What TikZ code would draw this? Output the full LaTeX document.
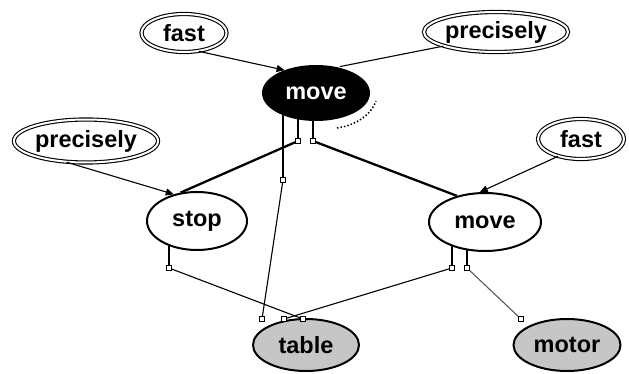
\documentclass[tikz,border=0pt]{standalone}
\usepackage{fontspec}
\setmainfont{Liberation Sans}
\usetikzlibrary{shapes.geometric,arrows.meta,backgrounds}
\begin{document}
\begin{tikzpicture}[x=1pt,y=-1pt,
  every node/.style={font=\fontsize{23.5}{25}\selectfont\bfseries},
  concept/.style={ellipse, draw, line width=2pt, fill=white, inner sep=0pt},
  modifier/.style={ellipse, draw, double, double distance=2pt, line width=1.1pt, inner sep=0pt},
  head/.style={concept, fill=black, text=white},
  object/.style={concept, fill=gray!45},
  port/.style={rectangle, draw, line width=0.9pt, fill=white, minimum size=5pt, inner sep=0pt},
  link/.style={line width=1.1pt},
  strong/.style={line width=2.3pt},
  tip/.style={-{Triangle[length=8pt,width=7pt]}}
]
\useasboundingbox (0,0) rectangle (629,374);

% concepts
\node[modifier, minimum width=85pt, minimum height=38pt] (fastA) at (184,33) {fast};
\node[modifier, minimum width=140pt, minimum height=40pt] (precA) at (496,32) {precisely};
\node[head, minimum width=106pt, minimum height=54pt] (moveA) at (316,93) {move};
\node[modifier, minimum width=143pt, minimum height=43pt] (precB) at (86,141) {precisely};
\node[modifier, minimum width=86pt, minimum height=40pt] (fastB) at (581,139) {fast};
\node[concept, minimum width=100pt, minimum height=58pt] (stop) at (197,221) {stop};
\node[concept, minimum width=112pt, minimum height=58pt] (moveB) at (485,222) {move};
\node[object, minimum width=106pt, minimum height=52pt] (table) at (306,345) {table};
\node[object, minimum width=107pt, minimum height=52pt] (motor) at (567,345) {motor};

% ports
\node[port] (pA1) at (283,180) {};
\node[port] (pA2) at (298,141) {};
\node[port] (pA3) at (313,141) {};
\node[port] (pS)  at (169,268) {};
\node[port] (pM1) at (452,268) {};
\node[port] (pM2) at (467,268) {};
\node[port] (tP1) at (262,319) {};
\node[port] (tP2) at (284,319) {};
\node[port] (tP3) at (303,319) {};
\node[port] (mP)  at (521,319) {};

% stems hidden behind the filled concepts
\begin{scope}[on background layer]
  \draw[link] (pA1.north) -- (pA1 |- moveA.center);
  \draw[line width=1.5pt] (pA2.north) -- (pA2 |- moveA.center);
  \draw[line width=1.5pt] (pA3.north) -- (pA3 |- moveA.center);
  \draw[link] (pS.north) -- (pS |- stop.center);
  \draw[link] (pM1.north) -- (pM1 |- moveB.center);
  \draw[link] (pM2.north) -- (pM2 |- moveB.center);
\end{scope}

% role links
\draw[link] (pA1) -- (tP1);
\draw[strong] (pA2) -- (stop.120);
\draw[strong] (pA3) -- (moveB.137);
\draw[link] (pS) -- (tP3);
\draw[link] (pM1) -- (tP2);
\draw[link, gray!70!black] (pM2) -- (mP);

% modifiers
\draw[link, tip] (fastA.-51) -- (moveA.144);
\draw[link, shorten >=3pt] (precA.195) -- (moveA.51);
\draw[link, tip] (precB.228) -- (stop.131);
\draw[link, tip] (fastB.217) -- (moveB.100);

% selection trace
\draw[dotted, line width=1.5pt] (337,128) .. controls (358,125) and (372,113) .. (376,101);
\end{tikzpicture}
\end{document}
